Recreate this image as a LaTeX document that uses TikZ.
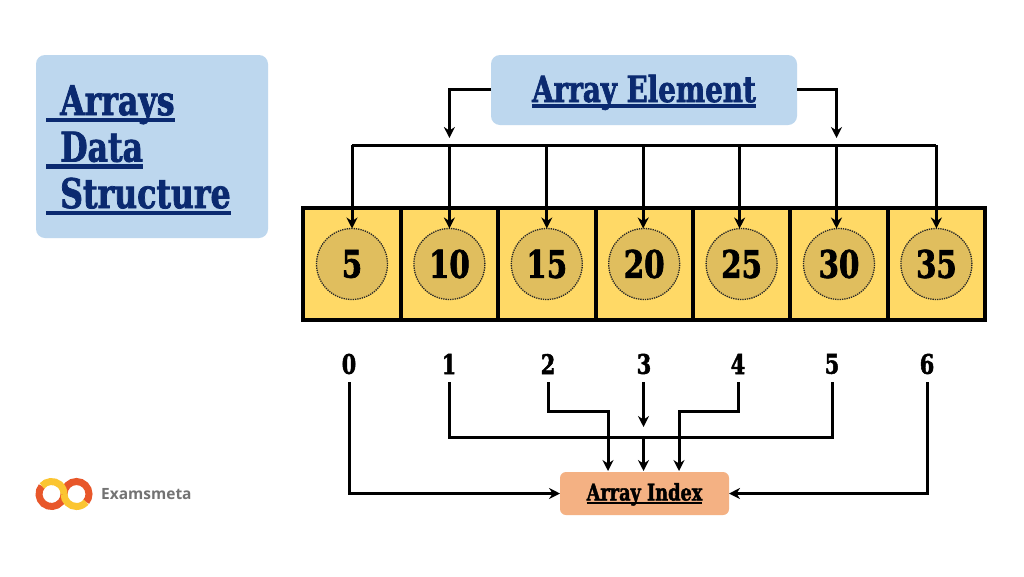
\documentclass[tikz,border=0pt]{standalone}
\usepackage{fontspec}
\usetikzlibrary{arrows.meta, positioning, calc}
\setmainfont{DejaVu Serif}[BoldFeatures={FakeStretch=0.77, FakeBold=1.8}]
\newfontfamily\logofont{Open Sans}
\definecolor{paleblue}{HTML}{BDD7EE}
\definecolor{navy}{HTML}{0B2A70}
\definecolor{cellyellow}{HTML}{FFD966}
\definecolor{circleyellow}{HTML}{E0BE5E}
\definecolor{peach}{HTML}{F4B183}
\definecolor{logoorange}{HTML}{E8572A}
\definecolor{logoyellow}{HTML}{FBC531}
\newcommand{\barred}[1]{\sbox0{#1}\rlap{\rule[-.17em]{\wd0}{.11em}}\usebox0}

\begin{document}
\begin{tikzpicture}[
    x=1pt, y=-1pt,
    % Define node styles
    panel/.style={rectangle, rounded corners=9pt, fill=paleblue, text=navy, outer sep=0pt},
    cell/.style={rectangle, draw, line width=4pt, fill=cellyellow, minimum width=97.4pt, minimum height=112pt, outer sep=0pt},
    disc/.style={circle, draw=black!85, densely dotted, line width=1.3pt, fill=circleyellow, minimum size=71pt, inner sep=0pt, outer sep=0pt, font=\fontsize{38}{38}\selectfont\bfseries},
    idx/.style={font=\fontsize{27}{27}\selectfont\bfseries, inner sep=0pt},
    % Define edge styles
    wire/.style={line width=3pt},
    edge/.style={wire, -{Stealth[length=11pt, width=11pt]}},
]
\useasboundingbox (0,0) rectangle (1024,576);
\fill[white] (0,0) rectangle (1024,576);

% Title panel
\node[panel, minimum width=232pt, minimum height=183pt] (Title) at (152,146.5) {};
\node[anchor=north west, inner sep=0pt, align=left, text=navy, font=\fontsize{41}{46.5}\selectfont\bfseries] (TitleText) at (46,85)
    {\barred{\hspace*{14pt}Arrays}\\ \barred{\hspace*{14pt}Data}\\ \barred{\hspace*{14pt}Structure}};

% Top label
\node[panel, minimum width=306pt, minimum height=70pt, font=\fontsize{36}{36}\selectfont\bfseries] (Element) at (644,90) {\raisebox{-12pt}[0pt][0pt]{\barred{Array Element}}};

% Array cells
\node[cell] (Cell0) at (352,264) {};
\foreach \prev/\cur in {0/1, 1/2, 2/3, 3/4, 4/5, 5/6} {
    \node[cell, right=0pt of Cell\prev] (Cell\cur) {};
}

% Values
\foreach \cur/\val in {0/5, 1/10, 2/15, 3/20, 4/25, 5/30, 6/35} {
    \node[disc] (Value\cur) at (Cell\cur) {\val};
}

% Bus above the cells
\coordinate (Bus) at (644,145);
\draw[wire] (Value0 |- Bus) -- (Value6 |- Bus);
\foreach \cur/\dx in {0/0, 1/0, 2/0, 3/-1, 4/-2, 5/-2.5, 6/0} {
    \draw[edge] ($(Value\cur |- Bus)+(\dx,0)$) -- ($(Value\cur.north)+(\dx,0)$);
}
\draw[edge] (Element.west |- 0,89) -| ($(Value1 |- Bus)+(0,-7)$);
\draw[edge] (Element.east |- 0,89) -| ($(Value5 |- Bus)+(-2.5,-7)$);

% Index numbers
\foreach \cur/\px in {0/349, 1/449, 2/548, 3/644, 4/738, 5/832, 6/927} {
    \node[idx] (Index\cur) at (\px,364) {\cur};
}

% Bottom label
\node[panel, fill=peach, text=black, rounded corners=6pt, minimum width=169pt, minimum height=43pt, font=\fontsize{23}{23}\selectfont\bfseries] (Label) at (644.5,493.5) {\raisebox{-7pt}[0pt][0pt]{\barred{Array Index}}};

% Index connectors
\draw[edge] (Index0.south) ++(0,8) |- (Label.west);
\draw[edge] (Index6.south) ++(0,8) |- (Label.east);
\draw[wire] (Index1.south) ++(0,8) |- (644,437) -| ($(Index5.south)+(0,8)$);
\draw[edge] (Index2.south) ++(0,8) |- (608,411) -- (608,471);
\draw[edge] (Index4.south) ++(0,8) |- (679,411) -- (679,471);
\draw[edge] (Index3.south) ++(-0.5,8) -- (643.5,427);
\draw[edge] (643.5,437) -- (643.5,471);

% Logo
\coordinate (LogoA) at (51.5,494);
\coordinate (LogoB) at (76.5,494);
\draw[logoorange, line width=7pt] ($(LogoA)+(-140:12.5)$) arc[start angle=-140, end angle=-360, radius=12.5];
\draw[logoorange, line width=7pt] ($(LogoB)+(-180:12.5)$) arc[start angle=-180, end angle=40, radius=12.5];
\draw[logoyellow, line width=7pt] ($(LogoA)+(-140:12.5)$) arc[start angle=-140, end angle=0, radius=12.5];
\draw[logoyellow, line width=7pt] ($(LogoB)+(-180:12.5)$) arc[start angle=-180, end angle=-320, radius=12.5];
\node[anchor=west, inner sep=0pt, text=black!55, font=\logofont\fontsize{15.5}{15.5}\selectfont\bfseries] (Brand) at (101,494) {Examsmeta};

\end{tikzpicture}
\end{document}
